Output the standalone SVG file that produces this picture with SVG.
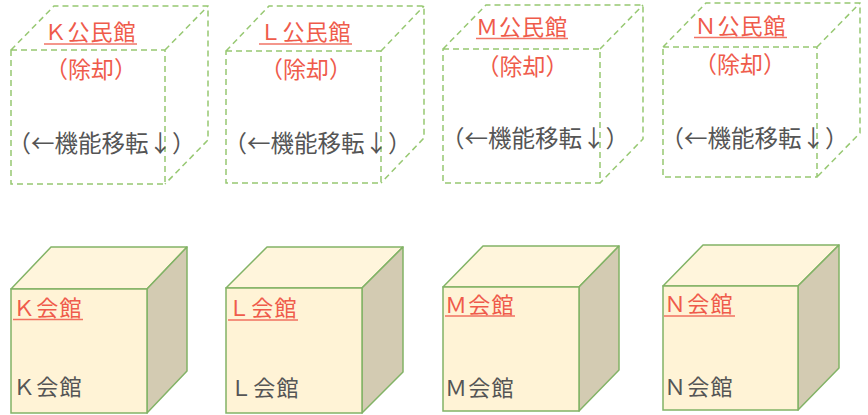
<svg xmlns="http://www.w3.org/2000/svg" width="868" height="415" viewBox="0 0 868 415">
<style>
.dash{fill:none;stroke:#97C872;stroke-width:1.5;stroke-dasharray:6,4}
.front{fill:#FFF3D6;stroke:#82B366;stroke-width:1.5}
.top{fill:#FFF5DC;stroke:#82B366;stroke-width:1.5;stroke-linejoin:round}
.side{fill:#D3CBB2;stroke:#82B366;stroke-width:1.5;stroke-linejoin:round}
text{font-family:"Noto Sans CJK JP","Noto Sans",sans-serif;font-size:22px}
.red{fill:#EF5B4B}
.gray{fill:#555555}
.ul{stroke:#EF5B4B;stroke-width:1.5;opacity:0.85}
.mid{text-anchor:middle}
.sub{font-size:23px}
.mv{font-size:23.5px}
</style>
<g id="old-k">
<path class="dash" d="M11,50H165V184H11Z M11,50L54,6H208V140L165,184 M165,50L208,6"/>
<text class="red mid" x="90.5" y="40" letter-spacing="1">Ｋ公民館</text>
<line class="ul" x1="44" y1="44" x2="137" y2="44"/>
<text class="red mid sub" x="91" y="78">（除却）</text>
<text class="gray mid mv" x="101.5" y="152">（←機能移転↓）</text>
</g>
<g id="old-l">
<path class="dash" d="M226,51H381V183H226Z M226,51L269,6H424V138L381,183 M381,51L424,6"/>
<text class="red mid" x="305.5" y="40" letter-spacing="1">Ｌ公民館</text>
<line class="ul" x1="259" y1="44" x2="352" y2="44"/>
<text class="red mid sub" x="306" y="78">（除却）</text>
<text class="gray mid mv" x="317.5" y="152">（←機能移転↓）</text>
</g>
<g id="old-m">
<path class="dash" d="M443,49H600V183H443Z M443,49L486,5H643V139L600,183 M600,49L643,5"/>
<text class="red mid" x="522" y="35" letter-spacing="1">Ｍ公民館</text>
<line class="ul" x1="476" y1="38.5" x2="568" y2="38.5"/>
<text class="red mid sub" x="522.5" y="75">（除却）</text>
<text class="gray mid mv" x="535" y="147">（←機能移転↓）</text>
</g>
<g id="old-n">
<path class="dash" d="M663,47H817V177H663Z M663,47L706,3H860V133L817,177 M817,47L860,3"/>
<text class="red mid" x="740.5" y="34" letter-spacing="1">Ｎ公民館</text>
<line class="ul" x1="694" y1="37.5" x2="787" y2="37.5"/>
<text class="red mid sub" x="740" y="73">（除却）</text>
<text class="gray mid mv" x="754.5" y="147">（←機能移転↓）</text>
</g>
<g id="new-k">
<polygon class="top" points="11,289 51,247 187,247 147,289"/>
<polygon class="side" points="147,289 187,247 187,371 147,413"/>
<rect class="front" x="11" y="289" width="136" height="124"/>
<text class="red" x="13" y="316" letter-spacing="1.3">Ｋ会館</text>
<line class="ul" x1="13" y1="319.5" x2="83" y2="319.5"/>
<text class="gray" x="13" y="395" letter-spacing="1.3">Ｋ会館</text>
</g>
<g id="new-l">
<polygon class="top" points="226,288 267,247 403,247 362,288"/>
<polygon class="side" points="362,288 403,247 403,372 362,413"/>
<rect class="front" x="226" y="288" width="136" height="125"/>
<text class="red" x="228" y="316" letter-spacing="1.3">Ｌ会館</text>
<line class="ul" x1="228" y1="320" x2="298" y2="320"/>
<text class="gray" x="230" y="396" letter-spacing="1.3">Ｌ会館</text>
</g>
<g id="new-m">
<polygon class="top" points="443,287 483,246 619,246 579,287"/>
<polygon class="side" points="579,287 619,246 619,370 579,411"/>
<rect class="front" x="443" y="287" width="136" height="124"/>
<text class="red" x="445" y="313" letter-spacing="1.3">Ｍ会館</text>
<line class="ul" x1="445" y1="316" x2="515" y2="316"/>
<text class="gray" x="445" y="396" letter-spacing="1.3">Ｍ会館</text>
</g>
<g id="new-n">
<polygon class="top" points="663,286 703,245 839,245 798,286"/>
<polygon class="side" points="798,286 839,245 839,368 798,410"/>
<rect class="front" x="663" y="286" width="135" height="124"/>
<text class="red" x="664" y="312" letter-spacing="1.3">Ｎ会館</text>
<line class="ul" x1="664" y1="316" x2="735" y2="316"/>
<text class="gray" x="664" y="395" letter-spacing="1.3">Ｎ会館</text>
</g>
<g id="connectors"></g>
</svg>
